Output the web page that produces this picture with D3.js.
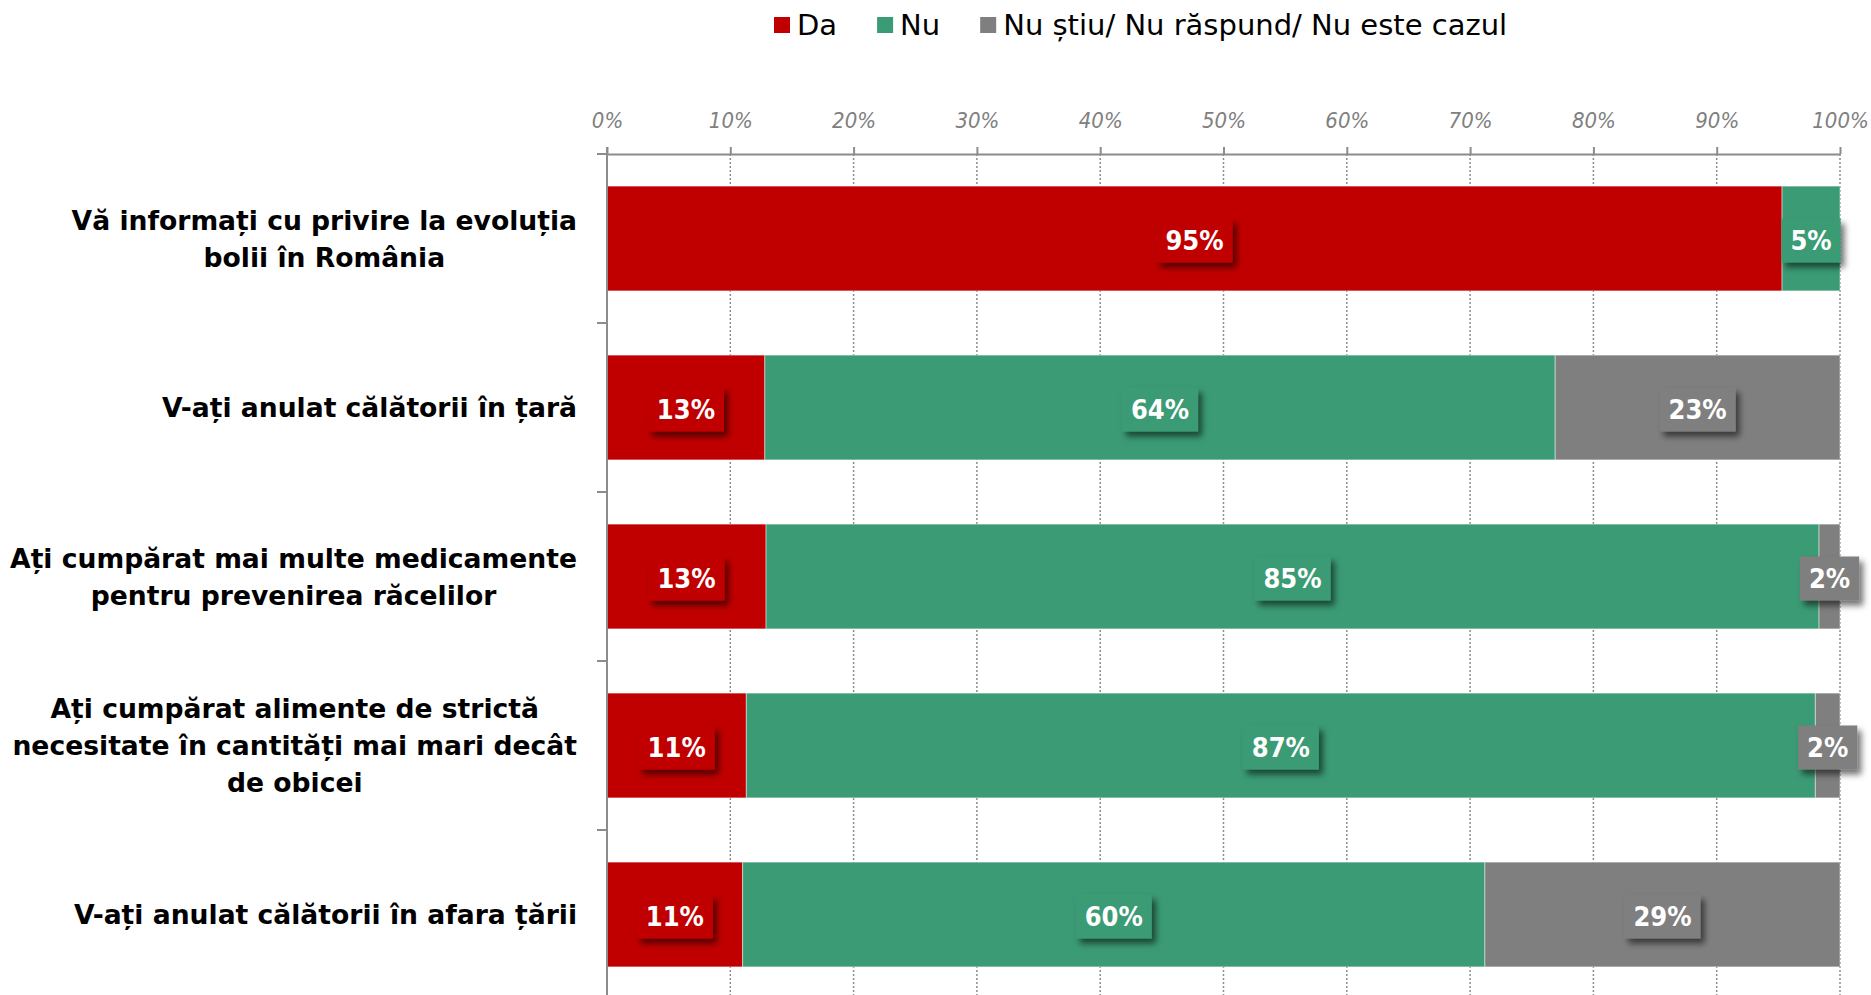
<!DOCTYPE html>
<html>
<head>
<meta charset="UTF-8" />
<title>Comportament</title>
<script src="https://d3js.org/d3.v7.min.js"></script>
<style type="text/css">
body {
	margin: 0;
	background-color: white;
	font-family: "DejaVu Sans Condensed", "DejaVu Sans", sans-serif;
}
.cat text { font-family: "DejaVu Sans", sans-serif; font-weight: bold; font-size: 26.6px; fill: #000; }
.legend text { font-family: "DejaVu Sans", sans-serif; font-size: 29px; fill: #000; }
.xaxis text { font-style: italic; font-size: 22px; fill: #808080; }
.lbl text { font-weight: bold; font-size: 27px; fill: #fff; }
</style>
</head>
<body>
<svg id="chart" width="1871" height="995"></svg>
<script>
// date (procente)
var categories = [
	["Vă informați cu privire la evoluția", "bolii în România"],
	["V-ați anulat călătorii în țară"],
	["Ați cumpărat mai multe medicamente", "pentru prevenirea răcelilor"],
	["Ați cumpărat alimente de strictă", "necesitate în cantități mai mari decât", "de obicei"],
	["V-ați anulat călătorii în afara țării"]
];
var series_names = ["Da", "Nu", "Nu știu/ Nu răspund/ Nu este cazul"];
var da = [95.3, 12.8, 12.9, 11.3, 11.0];
var nu = [4.7, 64.1, 85.4, 86.7, 60.2];
var ns = [0, 23.1, 1.7, 2.0, 28.8];
var tick_values = [0, 10, 20, 30, 40, 50, 60, 70, 80, 90, 100];
var colors = ["#c00000", "#3b9b75", "#7f7f7f"];

var svg = d3.select("#chart");
var pLeft = 607, pRight = 1840, pTop = 154, pBottom = 999;

var ids = categories.map(function(c, i) { return "c" + i; });
var x = d3.scaleLinear().domain([0, 100]).range([pLeft, pRight]);
var y = d3.scaleBand().domain(ids).range([pTop, pBottom]).paddingInner(0.38).paddingOuter(0.19);

// filtru pentru umbra etichetelor
var defs = svg.append("defs");
var f = defs.append("filter").attr("id", "shadow").attr("x", "-30%").attr("y", "-30%").attr("width", "160%").attr("height", "160%");
f.append("feDropShadow").attr("dx", 4).attr("dy", 5).attr("stdDeviation", 3)
	.attr("flood-color", "#000").attr("flood-opacity", 0.55);

// linii de grila punctate
svg.append("g").selectAll("line").data(tick_values.slice(1)).enter()
	.append("line")
	.attr("x1", function(d) { return x(d); }).attr("x2", function(d) { return x(d); })
	.attr("y1", pTop).attr("y2", pBottom)
	.attr("stroke", "#8c8c8c").attr("stroke-width", 1.5).attr("stroke-dasharray", "2,2");

// axa x sus
var xAxis = svg.append("g").attr("class", "xaxis").attr("transform", "translate(0," + pTop + ")")
	.call(d3.axisTop(x).tickValues(tick_values).tickFormat(function(d) { return d + "%"; })
		.tickSize(7).tickSizeOuter(0).tickPadding(19));
xAxis.select(".domain").attr("stroke", "#8c8c8c").attr("stroke-width", 2);
xAxis.selectAll(".tick line").attr("stroke", "#8c8c8c").attr("stroke-width", 2);
xAxis.attr("font-family", null).attr("font-size", null);

// stiva
var rows = ids.map(function(id, i) {
	var vals = [da[i], nu[i], ns[i]];
	var acc = 0;
	return vals.map(function(v, k) {
		var s = { id: id, k: k, v: v, x0: acc, x1: acc + v };
		acc += v;
		return s;
	});
});
var segs = [].concat.apply([], rows).filter(function(s) { return s.v > 0; });

svg.append("g").selectAll("rect").data(segs).enter()
	.append("rect")
	.attr("x", function(d) { return x(d.x0); })
	.attr("width", function(d) { return x(d.x1) - x(d.x0); })
	.attr("y", function(d) { return y(d.id); })
	.attr("height", y.bandwidth())
	.attr("fill", function(d) { return colors[d.k]; })
	.attr("stroke", "rgba(255,255,255,0.45)").attr("stroke-width", 1);

// axa y
svg.append("line").attr("x1", pLeft).attr("x2", pLeft).attr("y1", pTop - 7).attr("y2", pBottom)
	.attr("stroke", "#8c8c8c").attr("stroke-width", 2);
var bounds = [pTop].concat(ids.map(function(id) { return y(id) + y.bandwidth() + (y.step() - y.bandwidth()) / 2; }));
svg.append("g").selectAll("line").data(bounds).enter()
	.append("line").attr("x1", pLeft - 10).attr("x2", pLeft)
	.attr("y1", function(d) { return d; }).attr("y2", function(d) { return d; })
	.attr("stroke", "#8c8c8c").attr("stroke-width", 2);

// etichete categorii
var cat = svg.append("g").attr("class", "cat");
categories.forEach(function(lines, i) {
	var g = cat.append("g");
	var cy = y(ids[i]) + y.bandwidth() / 2;
	var lh = 37;
	var t = g.selectAll("text").data(lines).enter().append("text")
		.attr("text-anchor", "middle")
		.attr("dominant-baseline", "central")
		.attr("y", function(d, j) { return cy + (j - (lines.length - 1) / 2) * lh; })
		.text(function(d) { return d; });
	var maxW = d3.max(t.nodes(), function(n) { return n.getComputedTextLength(); });
	t.attr("x", pLeft - 30 - maxW / 2);
});

// etichete valori
var lbl = svg.append("g").attr("class", "lbl");
segs.forEach(function(d) {
	var g = lbl.append("g");
	var cx = (x(d.x0) + x(d.x1)) / 2;
	var cy = y(d.id) + y.bandwidth() / 2 + 2;
	var r = g.append("rect").attr("fill", colors[d.k]).attr("filter", "url(#shadow)");
	var t = g.append("text").attr("x", cx).attr("y", cy)
		.attr("text-anchor", "middle").attr("dominant-baseline", "central")
		.text(Math.round(d.v) + "%");
	var w = t.node().getComputedTextLength() + 18;
	r.attr("x", cx - w / 2).attr("y", cy - 22).attr("width", w).attr("height", 44);
});

// legenda
var legend = svg.append("g").attr("class", "legend");
var lx = 774;
series_names.forEach(function(name, k) {
	legend.append("rect").attr("x", lx).attr("y", 17).attr("width", 16).attr("height", 16).attr("fill", colors[k]);
	var t = legend.append("text").attr("x", lx + 23).attr("y", 25)
		.attr("dominant-baseline", "central").text(name);
	lx += 23 + t.node().getComputedTextLength() + 40;
});
</script>
</body>
</html>
